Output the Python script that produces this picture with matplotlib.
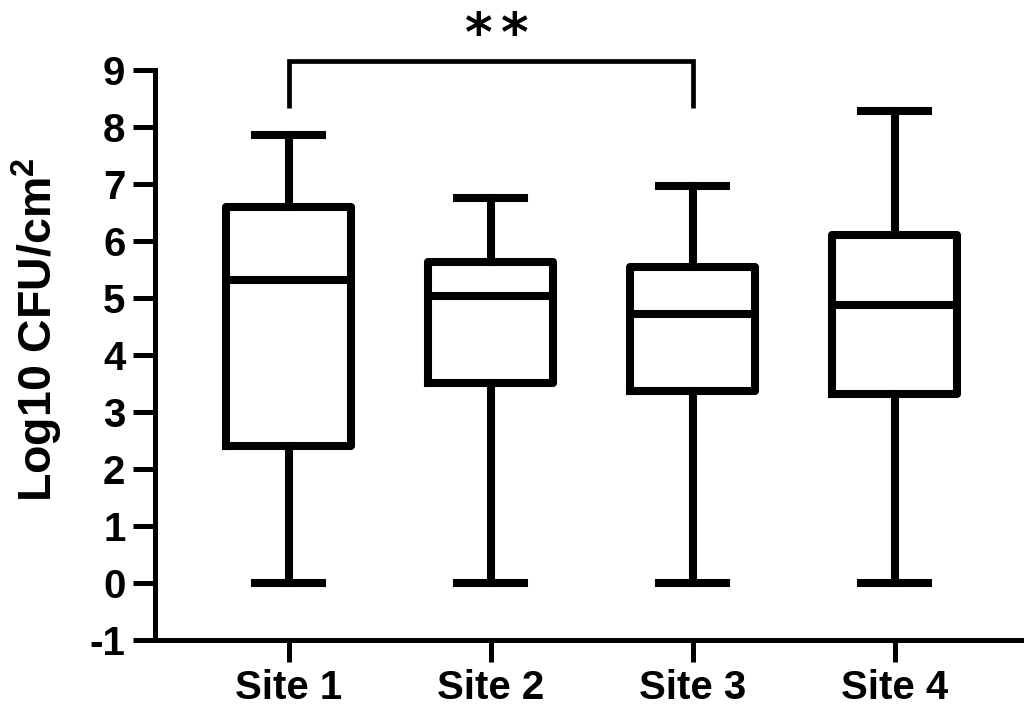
import matplotlib
matplotlib.use("Agg")
import matplotlib.pyplot as plt

plt.rcParams['font.family'] = ['Liberation Sans', 'DejaVu Sans']
plt.rcParams['font.weight'] = 'bold'
plt.rcParams['mathtext.fontset'] = 'custom'
plt.rcParams['mathtext.rm'] = 'Liberation Sans:bold'
plt.rcParams['mathtext.bf'] = 'Liberation Sans:bold'

sites = ["Site 1", "Site 2", "Site 3", "Site 4"]
whislo = [0.0, 0.0, 0.0, 0.0]
q1 = [2.41, 3.50, 3.36, 3.31]
med = [5.32, 5.04, 4.72, 4.87]
q3 = [6.60, 5.63, 5.54, 6.11]
whishi = [7.86, 6.75, 6.97, 8.28]
yticks = list(range(-1, 10))

stats = [dict(label=s, whislo=a, q1=b, med=c, q3=d, whishi=e)
         for s, a, b, c, d, e in zip(sites, whislo, q1, med, q3, whishi)]

fig = plt.figure(figsize=(10.24, 7.15), dpi=100)
ax = fig.add_axes([0.151, 0.105, 0.849, 0.797])

lw = 5.8
ax.bxp(stats, positions=[1, 2, 3, 4], widths=0.62, capwidths=0.33,
       showfliers=False,
       boxprops=dict(color='black', linewidth=lw),
       whiskerprops=dict(color='black', linewidth=lw),
       capprops=dict(color='black', linewidth=lw),
       medianprops=dict(color='black', linewidth=lw))

ax.set_xlim(0.337, 4.64)
ax.set_ylim(-1, 9)
ax.set_yticks(yticks)
ax.set_yticklabels([str(t) for t in yticks])
ax.set_xticks([1, 2, 3, 4])
ax.set_xticklabels(sites)

for sp in ['top', 'right']:
    ax.spines[sp].set_visible(False)
for sp in ['left', 'bottom']:
    ax.spines[sp].set_linewidth(3.6)

ax.tick_params(axis='both', width=3.6, length=16, labelsize=29, direction='out')
ax.tick_params(axis='y', pad=5)
ax.tick_params(axis='x', pad=5)
for lab in ax.get_xticklabels() + ax.get_yticklabels():
    lab.set_fontweight('bold')

ax.set_ylabel("Log10 CFU/cm$^{\\mathrm{2}}$", fontsize=33.5, fontweight='bold')
ax.yaxis.set_label_coords(-0.103, 0.545)

# significance bracket between Site 1 and Site 3
by, bl = 9.16, 8.33
ax.plot([1, 1, 3, 3], [bl, by, by, bl], color='black', linewidth=3.4,
        clip_on=False, solid_capstyle='butt', solid_joinstyle='miter')
for sx in (1.94, 2.12):
    ax.text(sx, 9.33, "*", ha='center', va='baseline', fontsize=38,
            fontweight='bold', family='DejaVu Sans', clip_on=False)

fig.savefig("out.png", dpi=100)
